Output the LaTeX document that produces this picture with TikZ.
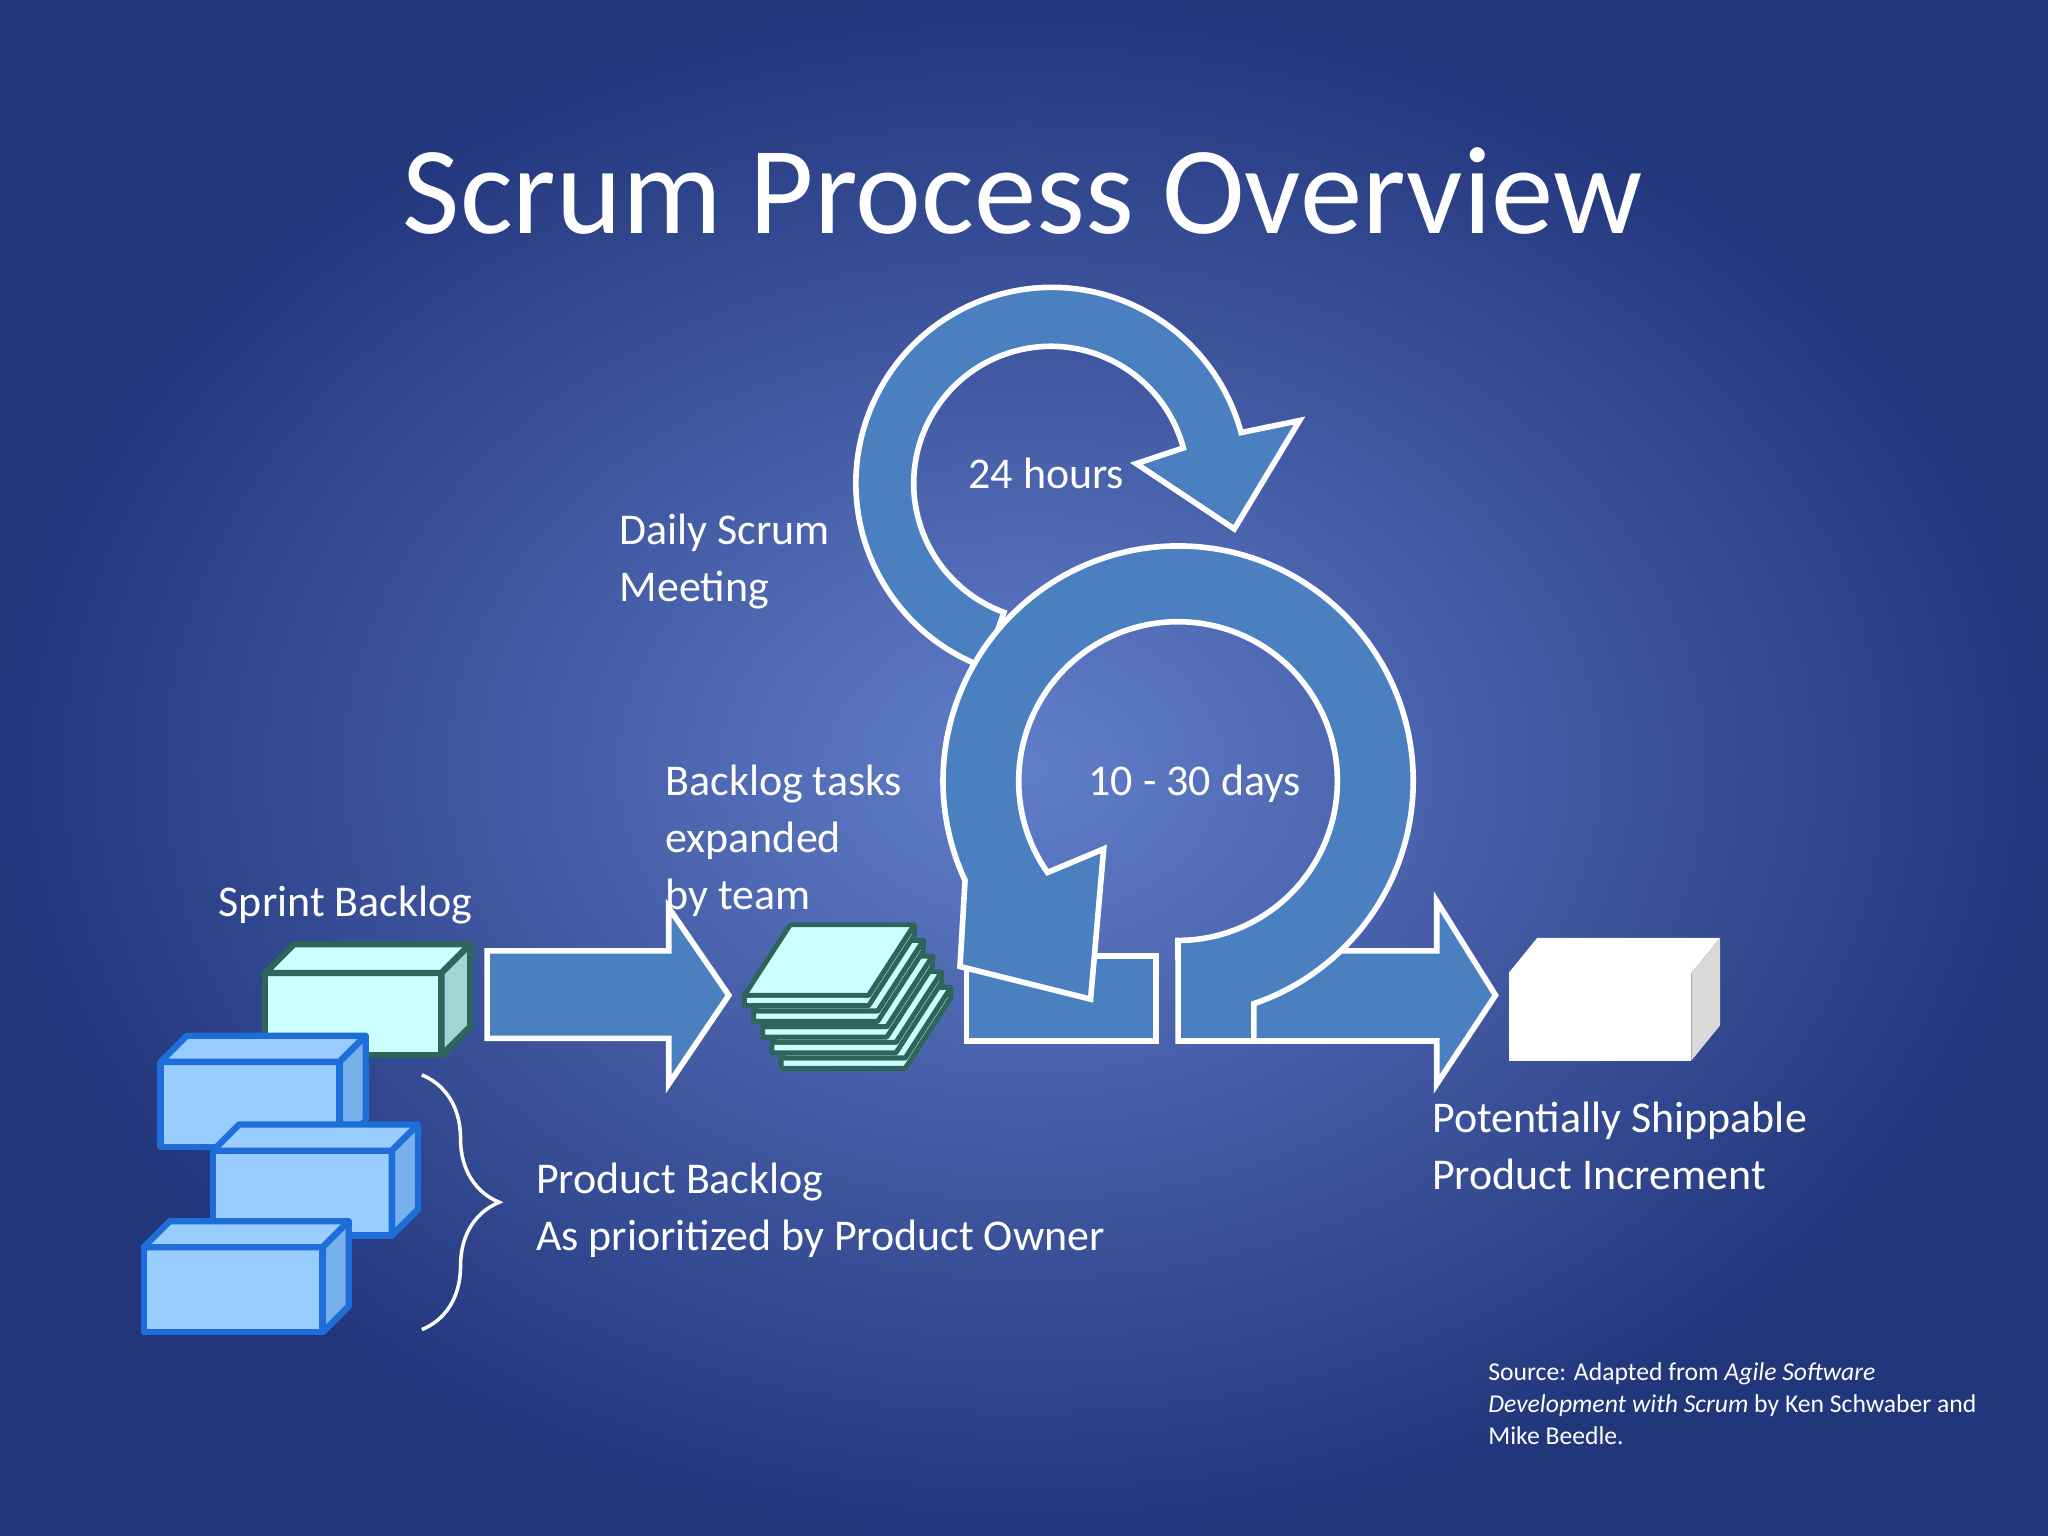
\documentclass[tikz,border=0pt]{standalone}
\usepackage{fontspec}
\setmainfont{Carlito}
\usetikzlibrary{positioning,decorations.pathreplacing}
\definecolor{bgin}{RGB}{98,126,202}
\definecolor{bgout}{RGB}{34,54,124}
\definecolor{arrowblue}{RGB}{74,128,192}
\definecolor{cyanbox}{RGB}{204,255,255}
\definecolor{cyanside}{RGB}{160,214,214}
\definecolor{tealline}{RGB}{46,100,90}
\definecolor{brick}{RGB}{153,204,255}
\definecolor{brickside}{RGB}{120,176,236}
\definecolor{brickline}{RGB}{30,110,217}
\tikzset{
  bigarrow/.style={fill=arrowblue,draw=white,line width=1.6pt,line join=miter},
  label/.style={text=white,font=\fontsize{12.5}{16.3}\selectfont,align=left,inner sep=0pt,anchor=north west},
  sbox/.style={fill=cyanbox,draw=tealline,line width=1.8pt,line join=round},
  bbox/.style={fill=brick,draw=brickline,line width=1.8pt,line join=round},
}
\begin{document}
\begin{tikzpicture}[x=0.013061cm,y=0.013061cm]
\useasboundingbox (0,0) rectangle (1568,1176);
\shade[inner color=bgin,outer color=bgout] (0,0) rectangle (1568,1176);

% title
\node[text=white,font=\fontsize{35.5}{40}\selectfont] (title) at (783,1030) {Scrum Process Overview};

% arrows into and out of the sprint
\draw[bigarrow] (373,448) -- (512,448) -- (512,481) -- (558,414) -- (512,346) -- (512,381) -- (373,381) -- cycle;
\draw[bigarrow] (960,448) -- (1100,448) -- (1100,486) -- (1145,414) -- (1100,346) -- (1100,379) -- (960,379) -- cycle;

% daily cycle
\draw[bigarrow] (754,665) arc[start angle=250,end angle=15,radius=150]
  -- (995,854) -- (945,771) -- (870,821) -- (906,833)
  arc[start angle=15,end angle=250,radius=105] -- cycle;

% sprint cycle
\draw[bigarrow] (740,444) rectangle (885,379);
\draw[bigarrow] (960,379) -- (902,379) -- (902,398) arc[start angle=-90,end angle=205,radius=180]
  -- (735,436) -- (835,411) -- (845,526) -- (802,508)
  arc[start angle=215,end angle=-90,radius=122] -- (902,379);
\fill[arrowblue] (904,381) rectangle (958,420);

% sprint backlog box
\draw[sbox] (203,368) rectangle (338,431);
\draw[sbox] (203,431) -- (225,453) -- (360,453) -- (338,431) -- cycle;
\draw[sbox,fill=cyanside] (338,368) -- (360,390) -- (360,453) -- (338,431) -- cycle;

% product backlog bricks
\foreach \bx/\by in {123/298,163/230,110/156}{
  \draw[bbox] (\bx,\by) rectangle ++(137,65);
  \draw[bbox] (\bx,\by+65) -- ++(20,20) -- ++(137,0) -- ++(-20,-20) -- cycle;
  \draw[bbox,fill=brickside] (\bx+137,\by) -- ++(20,20) -- ++(0,65) -- ++(-20,-20) -- cycle;
}
\draw[white,line width=1pt,decorate,decoration={brace,amplitude=22pt,aspect=0.5}]
  (323,353) -- (323,158);

% task sheets
\foreach \i in {4,3,2,1,0}{
  \begin{scope}[shift={(7*\i,-12*\i)}]
    \draw[sbox,line width=1.4pt] (570,406) -- (570,414) -- (665,414) -- (700,468) -- (700,460) -- (665,406) -- cycle;
    \draw[sbox,line width=1.4pt] (570,414) -- (605,468) -- (700,468) -- (665,414) -- cycle;
  \end{scope}
}

% product increment
\fill[white] (1155,364) rectangle (1295,431);
\fill[white] (1155,431) -- (1177,458) -- (1317,458) -- (1295,431) -- cycle;
\fill[gray!30] (1295,364) -- (1317,391) -- (1317,458) -- (1295,431) -- cycle;

% labels
\node[label] (daily) at (474,783) {Daily Scrum\\Meeting};
\node[label] (hours) at (741,826) {24 hours};
\node[label] (tasks) at (509,591) {Backlog tasks\\expanded\\by team};
\node[label] (days) at (833,591) {10 - 30 days};
\node[label] (sprint) at (167,498) {Sprint Backlog};
\node[label] (product) at (410,286) {Product Backlog\\As prioritized by Product Owner};
\node[label] (increment) at (1096,333) {Potentially Shippable\\Product Increment};
\node[label,font=\fontsize{7.3}{9}\selectfont] (source) at (1139,133)
  {Source: Adapted from \textit{Agile Software}\\\textit{Development with Scrum} by Ken Schwaber and\\Mike Beedle.};
\end{tikzpicture}
\end{document}
